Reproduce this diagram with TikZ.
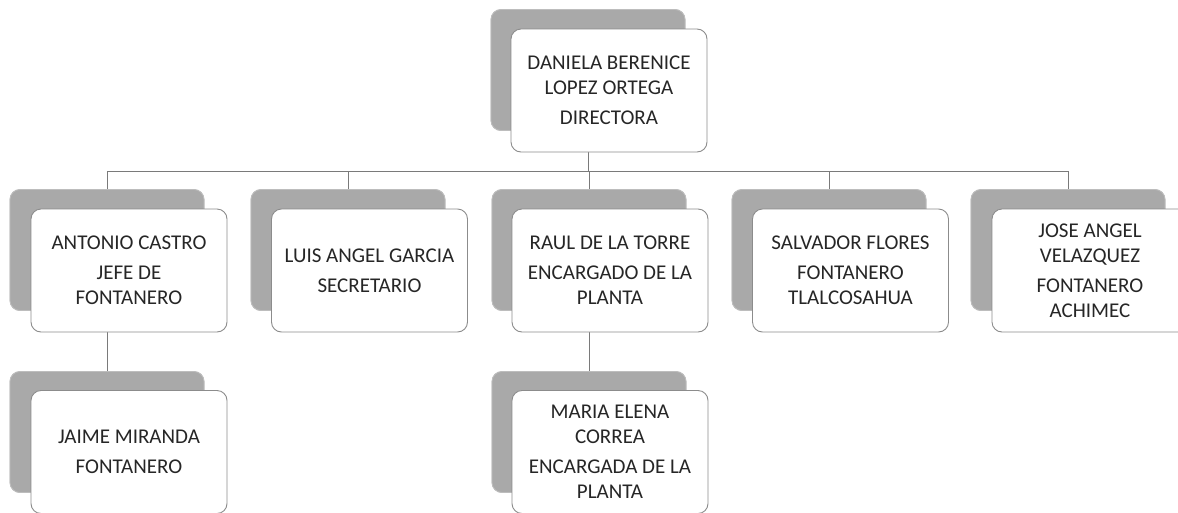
\documentclass[tikz,border=0pt]{standalone}
\usepackage{fontspec}
\setmainfont{Carlito}
\newcommand\cardfont{\fontsize{21}{25}\selectfont}
\definecolor{textc}{HTML}{262626}
\definecolor{shadowc}{HTML}{A9A9A9}
\definecolor{shadowline}{HTML}{BDBDBD}
\definecolor{cardline}{HTML}{8C8C8C}
\definecolor{linkc}{HTML}{7A7A7A}
\tikzset{
  card/.style={draw=cardline, line width=0.9pt, fill=white, rounded corners=10pt,
    minimum width=196pt, minimum height=123pt, align=center, font=\cardfont,
    text=textc, inner sep=2pt},
  shadebox/.style={draw=shadowline, line width=0.8pt, fill=shadowc, rounded corners=10pt,
    minimum width=194pt, minimum height=121pt},
  link/.style={draw=linkc, line width=0.9pt}
}
\begin{document}
\begin{tikzpicture}[x=1pt,y=-1pt]
\clip (0,0) rectangle (1178,512);
\fill[white] (0,0) rectangle (1178,512);
\coordinate (bus) at (0,171);
% shadow boxes
\node[shadebox] (s0) at (588,70) {};
\node[shadebox] (s1) at (107,250) {};
\node[shadebox] (s2) at (348,250) {};
\node[shadebox] (s3) at (589,250) {};
\node[shadebox] (s4) at (829,250) {};
\node[shadebox] (s5) at (1068,250) {};
\node[shadebox] (s6) at (107,432) {};
\node[shadebox] (s7) at (589,432) {};
% connectors (behind cards)
\foreach \k in {1,...,5}{
  \draw[link] (s0.center) -- (s0.center |- bus) -- (s\k.center |- bus) -- (s\k.north);
}
\draw[link] (s1.center) -- (s6.north);
\draw[link] (s3.center) -- (s7.north);
% redraw shadows over connector ends
\foreach \k in {0,...,7}{
  \node[shadebox] at (s\k) {};
}
% cards
\node[card] (n0) at (609,90.5) {DANIELA BERENICE\\LOPEZ ORTEGA\\[5pt]DIRECTORA};
\node[card] (n1) at (129,270.5) {ANTONIO CASTRO\\[5pt]JEFE DE\\FONTANERO};
\node[card] (n2) at (369.5,270.5) {LUIS ANGEL GARCIA\\[5pt]SECRETARIO};
\node[card] (n3) at (610,270.5) {RAUL DE LA TORRE\\[5pt]ENCARGADO DE LA\\PLANTA};
\node[card] (n4) at (850.5,270.5) {SALVADOR FLORES\\[5pt]FONTANERO\\TLALCOSAHUA};
\node[card] (n5) at (1090,270.5) {JOSE ANGEL\\VELAZQUEZ\\[5pt]FONTANERO\\ACHIMEC};
\node[card] (n6) at (129,452) {JAIME MIRANDA\\[5pt]FONTANERO};
\node[card] (n7) at (610,452) {MARIA ELENA\\CORREA\\[5pt]ENCARGADA DE LA\\PLANTA};
\end{tikzpicture}
\end{document}
